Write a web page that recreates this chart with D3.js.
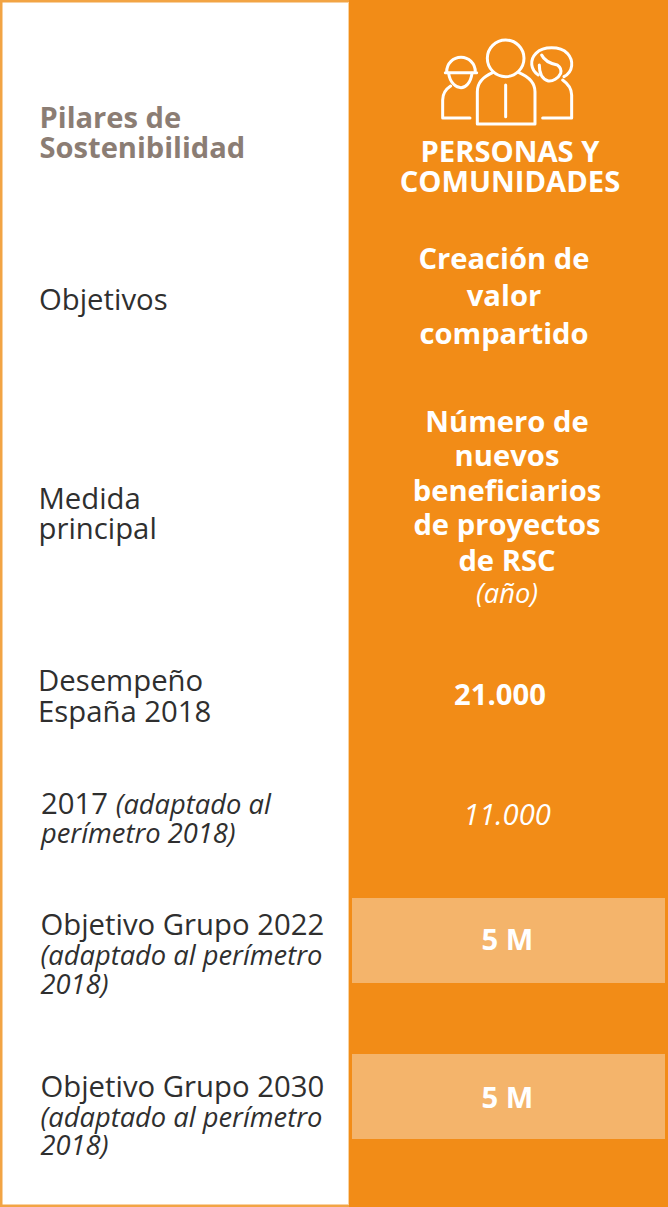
<!DOCTYPE html>
<html><head><meta charset="utf-8">
<script src="https://cdnjs.cloudflare.com/ajax/libs/d3/7.8.5/d3.min.js"></script>
<style>html,body{margin:0;padding:0;background:#fff}svg{display:block}text{font-family:"Open Sans",sans-serif}</style>
</head><body><svg id="c" width="668" height="1207"></svg>
<script>
const leftLabels = [
  ["Pilares de", "b"], ["Sostenibilidad", "b"],
  ["Objetivos", "r"],
  ["Medida", "r"], ["principal", "r"],
  ["Desempeño", "r"], ["España 2018", "r"],
  ["Objetivo Grupo 2022", "r"], ["(adaptado al perímetro", "i"], ["2018)", "i"],
  ["Objetivo Grupo 2030", "r"], ["(adaptado al perímetro", "i"], ["2018)", "i"]
];
const leftY = [128,158,310,509,539,691,721.5,935,965,994,1097,1126.5,1155];
const leftX = [39.5,39.5,39,38.5,38.5,38,38,40.5,40.5,40.5,40.5,40.5,40.5];
const rightLabels = [
  ["PERSONAS Y",161.5,510],["COMUNIDADES",191.5,510],
  ["Creación de",269,504],["valor",306,504],["compartido",343.5,504],
  ["Número de",432,507],["nuevos",466,507],["beneficiarios",501,507],["de proyectos",535,507],["de RSC",570.5,507],
  ["21.000",705,500],["5 M",950,507.5],["5 M",1108,507.5]
];
const targets = [{y:898},{y:1054}];
const svg = d3.select("#c");
const orange="#f28c17", dark="#2f2f2f", taupe="#8b7d74";
svg.append("rect").attr("x",1.25).attr("y",1.25).attr("width",665.5).attr("height",1204.5).attr("fill","#fff").attr("stroke","#f2a444").attr("stroke-width",2.5);
svg.append("rect").attr("x",349).attr("y",0).attr("width",319).attr("height",1207).attr("fill",orange);
svg.append("line").attr("x1",348.5).attr("x2",348.5).attr("y1",2).attr("y2",1205).attr("stroke","#f9d3a0").attr("stroke-width",1);
svg.selectAll("rect.t").data(targets).join("rect").attr("class","t").attr("x",352).attr("y",d=>d.y).attr("width",313).attr("height",85).attr("fill","#f4b46b");
svg.selectAll("text.l").data(leftLabels).join("text").attr("class","l")
  .attr("x",(d,i)=>leftX[i]).attr("y",(d,i)=>leftY[i])
  .attr("font-size",d=>d[1]==="i"?27.3:d[1]==="b"?29.1:29.3).attr("font-style",d=>d[1]==="i"?"italic":"normal")
  .attr("font-weight",d=>d[1]==="b"?700:400).attr("fill",d=>d[1]==="b"?taupe:dark).text(d=>d[0]);
const s2017 = svg.append("text").attr("x",41).attr("y",814).attr("font-size",29.3).attr("fill",dark);
s2017.append("tspan").text("2017 ");
s2017.append("tspan").attr("font-style","italic").attr("font-size",27.3).text("(adaptado al");
svg.append("text").attr("x",41).attr("y",843).attr("font-size",27.3).attr("font-style","italic").attr("fill",dark).text("perímetro 2018)");
svg.selectAll("text.r").data(rightLabels).join("text").attr("class","r")
  .attr("x",d=>d[2]).attr("y",d=>d[1]).attr("text-anchor","middle").attr("font-size",29.2).attr("font-weight",700).attr("fill","#fff").text(d=>d[0]);
svg.append("text").attr("x",507).attr("y",603).attr("text-anchor","middle").attr("font-size",27.3).attr("font-style","italic").attr("fill","#fff").text("(año)");
svg.append("text").attr("x",507).attr("y",824.5).attr("text-anchor","middle").attr("font-size",29.2).attr("font-style","italic").attr("fill","#fff").text("11.000");
const icon = svg.append("g").attr("transform","translate(400,20) scale(0.3333)").attr("fill","none").attr("stroke","#fff").attr("stroke-width",9).attr("stroke-linecap","round").attr("stroke-linejoin","round");
[
 "M278,158 C250,170 232,190 232,215 V312 H405 V215 C405,190 385,170 357,158",
 "M317,195 V290",
 "M140,156 C140,130 160,112 183,112 C206,112 226,130 226,156 M136,158 H230",
 "M146,160 C150,190 170,203 183,203 C196,203 212,190 216,160",
 "M152,198 C138,207 128,220 128,240 V294 H210",
 "M428,294 H515 V225 C515,205 505,192 488,180",
 "M425,105 C432,120 448,130 472,135 C482,142 484,152 482,160 C475,175 458,185 445,183 C428,178 418,160 418,135",
 "M415,165 C392,150 388,120 408,100 C430,78 480,78 502,100 C522,122 520,155 492,170"
].forEach(d=>icon.append("path").attr("d",d));
icon.append("circle").attr("cx",317).attr("cy",115).attr("r",55);
</script></body></html>
